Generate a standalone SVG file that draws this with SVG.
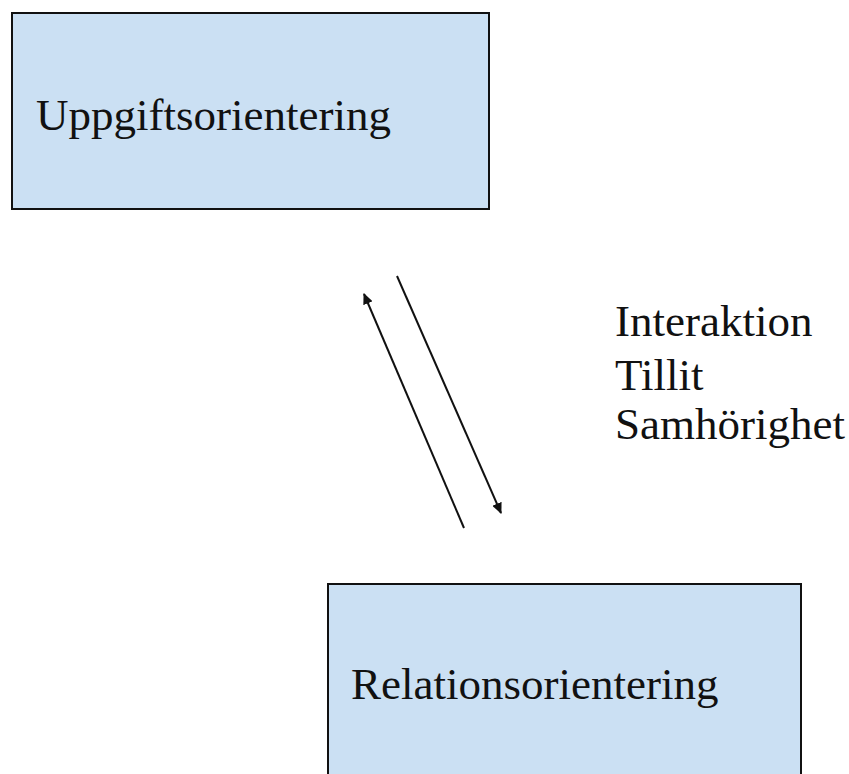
<svg xmlns="http://www.w3.org/2000/svg" width="849" height="774" viewBox="0 0 849 774">
<style>
.box{fill:#cbe0f3;stroke:#111;stroke-width:2}
.t{font-family:"Liberation Serif","Times New Roman",serif;font-size:45px;fill:#111}
.c{stroke:#111;stroke-width:2;fill:none}
</style>
<defs>
<marker id="ah" markerWidth="11" markerHeight="10" refX="10" refY="5" orient="auto" markerUnits="userSpaceOnUse">
<path d="M0,0 L11,5 L0,10 Z" fill="#111"/>
</marker>
</defs>
<rect width="849" height="774" fill="#fff"/>
<g id="node-uppgift">
<rect class="box" x="12" y="13" width="477" height="196"/>
<text class="t" x="36" y="130">Uppgiftsorientering</text>
</g>
<g id="node-relation">
<rect class="box" x="328" y="584" width="473" height="200"/>
<text class="t" x="351" y="699">Relationsorientering</text>
</g>
<g id="connectors">
<line class="c" x1="464" y1="528" x2="364" y2="294" marker-end="url(#ah)"/>
<line class="c" x1="397" y1="276" x2="501" y2="513" marker-end="url(#ah)"/>
</g>
<g id="label">
<text class="t" x="615" y="336">Interaktion</text>
<text class="t" x="615" y="390">Tillit</text>
<text class="t" x="615" y="439">Samhörighet</text>
</g>
</svg>
